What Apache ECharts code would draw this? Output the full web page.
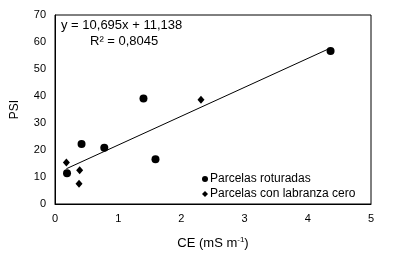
<!DOCTYPE html>
<html lang="es">
<head>
    <meta charset="UTF-8">
    <title>PSI vs CE</title>
    <script src="https://cdn.jsdelivr.net/npm/echarts@6/dist/echarts.min.js"></script>
</head>
<body style="margin:0">
    <div id="chart" style="width:393px;height:259px"></div>
    <script type="text/javascript">
        // Parcelas roturadas
        var roturadasX = [0.42, 0.78, 1.59, 0.19, 1.40, 4.36];
        var roturadasY = [22.2, 20.8, 16.6, 11.4, 39.1, 56.7];
        // Parcelas con labranza cero
        var labranzaX = [0.18, 0.39, 0.38, 2.31];
        var labranzaY = [15.4, 12.5, 7.5, 38.6];
        // linea de tendencia
        var pendiente = 10.695;
        var ordenada = 11.138;
        var xTicks = [0, 1, 2, 3, 4, 5];
        var yTicks = [0, 10, 20, 30, 40, 50, 60, 70];

        var font = 'Liberation Sans, Arial, sans-serif';
        var allX = roturadasX.concat(labranzaX);
        var xMin = Math.min.apply(null, allX);
        var xMax = Math.max.apply(null, allX);

        function pares(xs, ys) {
            var out = [];
            for (var i = 0; i < xs.length; i++) out.push([xs[i], ys[i]]);
            return out;
        }

        var option = {
            animation: false,
            textStyle: { fontFamily: font },
            grid: {
                left: 55, right: 22, top: 15, bottom: 55,
                show: true, borderColor: '#000', borderWidth: 1
            },
            legend: {
                orient: 'vertical',
                left: 197, top: 168,
                itemWidth: 6, itemHeight: 6, itemGap: 3,
                textStyle: { fontSize: 12, color: '#000', fontFamily: font, padding: [0, 0, 0, -3] },
                data: [
                    { name: 'Parcelas roturadas', icon: 'circle' },
                    { name: 'Parcelas con labranza cero', icon: 'diamond' }
                ]
            },
            xAxis: {
                type: 'value',
                min: xTicks[0], max: xTicks[xTicks.length - 1], interval: 1,
                splitLine: { show: false },
                axisTick: { show: false },
                axisLine: { lineStyle: { color: '#000' } },
                axisLabel: { color: '#000', fontSize: 11, margin: 9 },
                name: 'CE (mS m{sup|-1})',
                nameLocation: 'middle', nameGap: 32,
                nameTextStyle: {
                    color: '#000', fontSize: 13,
                    rich: { sup: { fontSize: 8, verticalAlign: 'top', color: '#000', padding: [0, 0, 6, 0] } }
                }
            },
            yAxis: {
                type: 'value',
                min: yTicks[0], max: yTicks[yTicks.length - 1], interval: 10,
                splitLine: { show: false },
                axisTick: { show: false },
                axisLine: { lineStyle: { color: '#000' } },
                axisLabel: { color: '#000', fontSize: 11, margin: 9 },
                name: 'PSI',
                nameLocation: 'middle', nameGap: 34,
                nameTextStyle: { color: '#000', fontSize: 12 }
            },
            graphic: [
                { type: 'text', left: 61, top: 19, style: { text: 'y = 10,695x + 11,138', fill: '#000', font: '13px ' + font } },
                { type: 'text', left: 90, top: 35, style: { text: 'R² = 0,8045', fill: '#000', font: '13px ' + font } }
            ],
            series: [
                {
                    name: 'Parcelas roturadas',
                    type: 'scatter',
                    symbol: 'circle', symbolSize: 8,
                    itemStyle: { color: '#000', opacity: 1 },
                    data: pares(roturadasX, roturadasY)
                },
                {
                    name: 'Parcelas con labranza cero',
                    type: 'scatter',
                    symbol: 'diamond', symbolSize: [7, 8],
                    itemStyle: { color: '#000', opacity: 1 },
                    data: pares(labranzaX, labranzaY)
                },
                {
                    name: 'tendencia',
                    type: 'line',
                    symbol: 'none',
                    lineStyle: { color: '#000', width: 1 },
                    data: [[xMin, pendiente * xMin + ordenada], [xMax, pendiente * xMax + ordenada]],
                    z: 1
                }
            ]
        };
        var chart = echarts.init(document.getElementById('chart'));
        chart.setOption(option);
    </script>
</body>
</html>
